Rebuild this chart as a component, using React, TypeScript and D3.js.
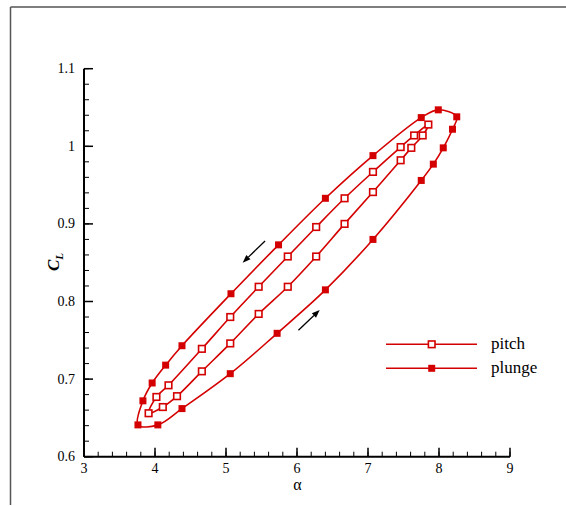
import React from "react";
import * as d3 from "d3";

const pitchAlpha = [7.85, 7.65, 7.46, 7.07, 6.67, 6.27, 5.87, 5.46, 5.06, 4.66, 4.19, 4.02, 3.91, 4.11, 4.31, 4.66, 5.06, 5.46, 5.87, 6.27, 6.67, 7.07, 7.46, 7.61, 7.77];
const pitchCL = [1.028, 1.014, 0.999, 0.967, 0.933, 0.896, 0.858, 0.819, 0.78, 0.739, 0.692, 0.677, 0.656, 0.664, 0.678, 0.71, 0.746, 0.784, 0.819, 0.858, 0.9, 0.941, 0.982, 0.998, 1.014];

const plungeAlpha = [7.99, 7.75, 7.07, 6.4, 5.74, 5.07, 4.38, 4.15, 3.96, 3.83, 3.76, 4.04, 4.38, 5.06, 5.72, 6.4, 7.07, 7.75, 7.92, 8.06, 8.19, 8.25];
const plungeCL = [1.047, 1.037, 0.988, 0.933, 0.873, 0.81, 0.743, 0.718, 0.695, 0.672, 0.641, 0.641, 0.662, 0.707, 0.759, 0.815, 0.88, 0.956, 0.977, 0.998, 1.022, 1.038];

const xTicks = [3, 4, 5, 6, 7, 8, 9];
const yTicks = [0.6, 0.7, 0.8, 0.9, 1.0, 1.1];
const yTickLabels = ["0.6", "0.7", "0.8", "0.9", "1", "1.1"];
const seriesNames = ["pitch", "plunge"];

// arrows: [tailAlpha, tailCL, tipAlpha, tipCL]
const arrows = [
  [5.55, 0.878, 5.235, 0.85],
  [6.02, 0.763, 6.32, 0.789],
];

const RED = "#d40000";
const FONT = "Liberation Serif, Times New Roman, DejaVu Serif, serif";
const tStyle = { fontFamily: FONT };

export default function App() {
  const W = 566, H = 506;
  const x = d3.scaleLinear().domain([3, 9]).range([84, 510]);
  const y = d3.scaleLinear().domain([0.6, 1.1]).range([456.7, 68.7]);

  const line = d3
    .line<[number, number]>()
    .x((d) => x(d[0]))
    .y((d) => y(d[1]))
    .curve(d3.curveCatmullRomClosed.alpha(0.5));

  const pitch: [number, number][] = pitchAlpha.map((a, i) => [a, pitchCL[i]]);
  const plunge: [number, number][] = plungeAlpha.map((a, i) => [a, plungeCL[i]]);

  const xMinor = d3.range(3, 9.0001, 0.2);
  const yMinor = d3.range(0.6, 1.1001, 0.02);
  const ms = 7;

  const arrowEls = arrows.map((a, i) => {
    const x1 = x(a[0]), y1 = y(a[1]), x2 = x(a[2]), y2 = y(a[3]);
    const ang = Math.atan2(y2 - y1, x2 - x1);
    const hl = 8, hw = 3;
    const bx = x2 - hl * Math.cos(ang), by = y2 - hl * Math.sin(ang);
    const px = -Math.sin(ang) * hw, py = Math.cos(ang) * hw;
    return (
      <g key={"ar" + i}>
        <line x1={x1} y1={y1} x2={bx} y2={by} stroke="#000" strokeWidth={1.3} />
        <path d={`M${x2},${y2}L${bx + px},${by + py}L${bx - px},${by - py}Z`} fill="#000" />
      </g>
    );
  });

  const legY = [344.3, 368.3];

  return (
    <svg width={W} height={H} style={{ position: "absolute", left: 0, top: 0, background: "#fff" }}>
      {/* frame */}
      <line x1={10.5} y1={7} x2={566} y2={7} stroke="#555" strokeWidth={1.5} />
      <line x1={10.5} y1={7} x2={10.5} y2={505} stroke="#555" strokeWidth={1.5} />

      {/* curves */}
      <path d={line(plunge) || ""} fill="none" stroke={RED} strokeWidth={1.6} />
      <path d={line(pitch) || ""} fill="none" stroke={RED} strokeWidth={1.6} />
      {plunge.map((d, i) => (
        <rect key={"pl" + i} x={x(d[0]) - ms / 2} y={y(d[1]) - ms / 2} width={ms} height={ms} fill={RED} />
      ))}
      {pitch.map((d, i) => (
        <rect key={"pi" + i} x={x(d[0]) - 3.3} y={y(d[1]) - 3.3} width={6.6} height={6.6} fill="#fff" stroke={RED} strokeWidth={1.6} />
      ))}

      {arrowEls}

      {/* axes */}
      {xMinor.map((v, i) => (
        <line key={"xm" + i} x1={x(v)} x2={x(v)} y1={y(0.6)} y2={y(0.6) - 5} stroke="#000" strokeWidth={1} />
      ))}
      {yMinor.map((v, i) => (
        <line key={"ym" + i} x1={x(3)} x2={x(3) + 5} y1={y(v)} y2={y(v)} stroke="#000" strokeWidth={1} />
      ))}
      {xTicks.map((v) => (
        <g key={"xt" + v}>
          <line x1={x(v)} x2={x(v)} y1={y(0.6)} y2={y(0.6) - 9} stroke="#000" strokeWidth={1.5} />
          <text x={x(v)} y={473} textAnchor="middle" style={tStyle} fontSize={14}>{v}</text>
        </g>
      ))}
      {yTicks.map((v, i) => (
        <g key={"yt" + v}>
          <line x1={x(3)} x2={x(3) + 9} y1={y(v)} y2={y(v)} stroke="#000" strokeWidth={1.5} />
          <text x={75} y={y(v) + 4.5} textAnchor="end" style={tStyle} fontSize={14}>{yTickLabels[i]}</text>
        </g>
      ))}
      <line x1={x(3)} x2={x(9)} y1={y(0.6)} y2={y(0.6)} stroke="#000" strokeWidth={2} />
      <line x1={x(3)} x2={x(3)} y1={y(0.6)} y2={y(1.1)} stroke="#000" strokeWidth={2} />

      <text x={297.5} y={490} textAnchor="middle" style={tStyle} fontSize={16}>α</text>
      <text transform="translate(59,262) rotate(-90)" textAnchor="middle" style={tStyle} fontSize={17} fontWeight="bold" fontStyle="italic">
        C<tspan fontSize={11} dy={4}>L</tspan>
      </text>

      {/* legend */}
      {seriesNames.map((n, i) => (
        <g key={"lg" + n}>
          <line x1={386} x2={477} y1={legY[i]} y2={legY[i]} stroke={RED} strokeWidth={1.6} />
          {i === 0 ? (
            <rect x={431.7 - 3.3} y={legY[i] - 3.3} width={6.6} height={6.6} fill="#fff" stroke={RED} strokeWidth={1.6} />
          ) : (
            <rect x={431.7 - ms / 2} y={legY[i] - ms / 2} width={ms} height={ms} fill={RED} />
          )}
          <text x={491} y={legY[i] + 5} style={tStyle} fontSize={17}>{n}</text>
        </g>
      ))}
    </svg>
  );
}
